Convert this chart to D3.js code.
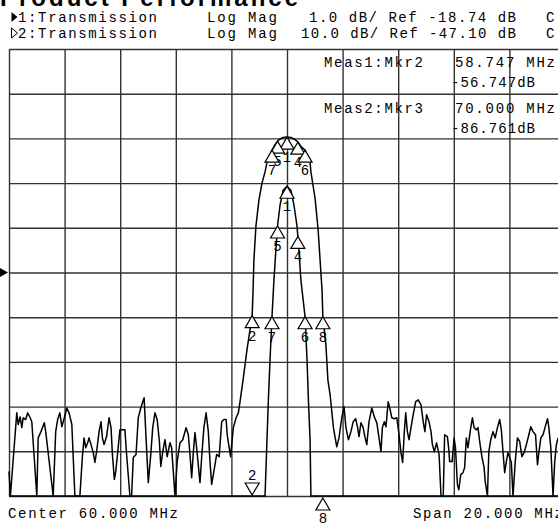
<!DOCTYPE html>
<html>
<head>
<meta charset="utf-8">
<script src="https://cdn.jsdelivr.net/npm/d3@7"></script>
<style>
html, body { margin: 0; padding: 0; background: #fff; overflow: hidden; }
svg { display: block; }
.mono { font-family: "Liberation Mono", "DejaVu Sans Mono", monospace; font-size: 14px; fill: #000; }
.grid line { stroke: #333; stroke-width: 1.4; }
.grid path { display: none; }
.trace { fill: none; stroke: #000; stroke-width: 1.5; stroke-linejoin: round; }
.mkr { fill: #fff; stroke: #000; stroke-width: 1.2; }
</style>
</head>
<body>
<div id="chart"></div>
<script>
// sweep, MHz
const freqMHz = [
  50.00, 50.05, 50.28, 50.33, 50.40, 50.46, 50.51, 50.60, 50.67, 50.76, 50.82,
  51.00, 51.05, 51.15, 51.27, 51.32, 51.59, 51.68, 51.75, 51.83, 51.90, 51.99,
  52.08, 52.16, 52.26, 52.37, 52.55, 52.64, 52.70, 52.76, 52.83, 52.88, 52.95,
  53.03, 53.09, 53.15, 53.24, 53.31, 53.36, 53.42, 53.51, 53.60, 53.67, 53.72,
  53.79, 53.84, 53.91, 53.99, 54.17, 54.23, 54.35, 54.41, 54.47, 54.57, 54.65,
  54.74, 54.86, 54.93, 55.01, 55.10, 55.17, 55.25, 55.33, 55.41, 55.46, 55.53,
  55.61, 55.69, 55.79, 55.85, 55.91, 55.97, 56.05, 56.15, 56.25, 56.37, 56.45,
  56.51, 56.57, 56.63, 56.69, 56.75, 56.87, 56.93, 57.01, 57.09, 57.17, 57.23,
  57.29, 57.37, 57.47, 57.56, 57.65, 57.73, 57.81, 57.85, 57.92, 57.97, 58.07,
  58.17, 58.25, 58.31, 58.42, 58.56, 58.67, 58.747, 58.78, 58.81, 58.88, 58.99,
  59.10, 59.21, 59.28, 59.33, 59.39, 59.46, 59.53, 59.60, 59.66, 59.75, 59.86,
  60.00, 60.14, 60.25, 60.36, 60.43, 60.50, 60.65, 60.72, 60.77, 60.83, 60.86,
  61.01, 61.12, 61.19, 61.26, 61.29, 61.40, 61.47, 61.55, 61.67, 61.79, 61.87,
  61.97, 62.05, 62.12, 62.21, 62.30, 62.38, 62.47, 62.54, 62.59, 62.66, 62.74,
  62.81, 62.87, 62.95, 63.05, 63.14, 63.23, 63.31, 63.38, 63.43, 63.50, 63.56,
  63.64, 63.71, 63.77, 63.86, 63.95, 64.03, 64.10, 64.16, 64.22, 64.27, 64.33,
  64.39, 64.46, 64.54, 64.63, 64.72, 64.82, 64.90, 64.96, 65.02, 65.11, 65.18,
  65.23, 65.30, 65.38, 65.47, 65.54, 65.62, 65.67, 65.77, 65.82, 65.85, 65.94,
  66.01, 66.06, 66.13, 66.18, 66.25, 66.33, 66.39, 66.45, 66.51, 66.61, 66.67,
  66.73, 66.81, 66.87, 66.93, 67.01, 67.09, 67.13, 67.21, 67.26, 67.33, 67.41,
  67.49, 67.57, 67.65, 67.71, 67.77, 67.83, 67.89, 67.95, 68.01, 68.07, 68.13,
  68.21, 68.29, 68.37, 68.45, 68.53, 68.61, 68.70, 68.77, 68.85, 68.94, 69.01,
  69.06, 69.13, 69.21, 69.28, 69.37, 69.42, 69.49, 69.57, 69.63, 69.69, 69.75,
  70.00
];
// transmission, dB (same measurement shown on both channels)
const s21dB = [
  -91.6, -98.0, -78.5, -81.1, -79.4, -81.8, -79.6, -80.0, -78.5, -79.6, -80.5,
  -98.0, -84.1, -82.7, -80.7, -82.7, -98.0, -82.7, -80.0, -78.5, -81.6, -79.6,
  -77.4, -78.5, -81.1, -98.0, -98.0, -88.3, -84.1, -86.3, -85.2, -84.1, -85.6,
  -87.4, -89.6, -87.2, -82.7, -80.5, -84.1, -85.6, -83.8, -79.6, -81.8, -87.8,
  -93.4, -91.6, -87.4, -82.3, -82.3, -87.8, -98.0, -98.0, -88.5, -87.8, -79.6,
  -77.4, -75.1, -84.1, -94.1, -87.8, -81.8, -78.5, -80.0, -84.9, -90.5, -87.2,
  -84.5, -88.3, -85.2, -86.3, -91.6, -98.0, -89.4, -85.2, -84.5, -81.8, -83.4,
  -87.8, -93.0, -87.4, -82.9, -86.3, -94.1, -88.5, -81.8, -78.5, -82.7, -89.4,
  -94.5, -91.6, -87.8, -88.3, -80.5, -80.0, -80.0, -83.4, -86.3, -88.3, -81.8,
  -79.6, -78.5, -76.0, -71.1, -64.4, -59.9, -56.75, -51.0, -44.3, -36.9, -30.9,
  -27.1, -24.6, -22.48, -21.59, -20.69, -19.73, -18.91, -18.24, -17.70, -17.23, -16.90,
  -16.81, -16.90, -17.23, -17.70, -18.24, -18.91, -19.73, -20.69, -21.59, -22.48, -24.6,
  -30.5, -37.6, -44.3, -51.0, -57.0, -63.3, -71.1, -74.4, -81.8, -86.1, -84.1,
  -79.6, -77.1, -81.8, -84.5, -82.7, -80.5, -79.8, -81.8, -83.8, -80.7, -81.8,
  -84.1, -85.6, -80.5, -77.4, -79.4, -80.7, -84.1, -87.2, -81.8, -80.5, -81.6,
  -76.0, -77.8, -79.6, -79.8, -79.6, -83.4, -87.4, -89.6, -82.7, -78.5, -82.7,
  -84.5, -81.8, -78.9, -76.0, -75.6, -76.7, -80.5, -82.7, -78.9, -80.5, -82.7,
  -85.6, -87.2, -85.2, -87.8, -98.0, -98.0, -83.4, -83.8, -86.7, -89.4, -89.4,
  -84.1, -86.3, -94.5, -95.7, -92.3, -91.9, -90.7, -84.1, -86.3, -81.8, -79.6,
  -81.8, -82.3, -81.8, -84.9, -88.3, -90.7, -93.9, -98.0, -87.2, -84.5, -82.7,
  -84.1, -81.8, -80.0, -82.3, -87.2, -91.9, -89.4, -87.4, -88.5, -89.6, -98.0,
  -89.4, -84.1, -84.9, -88.3, -87.4, -85.6, -83.4, -81.6, -82.7, -83.4, -90.1,
  -87.4, -84.1, -83.4, -81.8, -79.8, -81.8, -86.3, -98.0, -89.4, -85.6, -84.1,
  -86.76
];

const markerIds = [1, 2, 3, 4, 5, 6, 7, 8];
const markerFreqMHz = [60.000, 58.747, 70.000, 60.39, 59.66, 60.65, 59.46, 61.29];
const activeMarker = 2;

const xTickMHz = [50, 52, 54, 56, 58, 60, 62, 64, 66, 68, 70];

// channel settings from the header
const ch1 = {ref: -18.74, perDiv: 1};
const ch2 = {ref: -47.10, perDiv: 10};
const refPos = 5, divs = 10;

var margin = {left: 9, top: 49},
    plotW = 556, plotH = 447;

var svg = d3.select('#chart').append('svg')
  .attr('width', 558).attr('height', 525);

// title, mostly cut off at the top of the capture
svg.append('text')
  .attr('x', 0).attr('y', 6)
  .attr('textLength', 298)
  .style('font-family', '"Liberation Sans", Arial, sans-serif')
  .style('font-weight', 'bold').style('font-size', '24px')
  .text('Product Performance');

function txt(x, y, s, len){
  var t = svg.append('text').attr('class', 'mono').attr('x', x).attr('y', y).text(s);
  if(len) t.attr('textLength', len).attr('lengthAdjust', 'spacing');
  return t;
}

// header lines
svg.append('path').attr('d', 'M11.5,12 L17.5,17 L11.5,22 Z').attr('fill', '#000');
svg.append('path').attr('d', 'M11.5,28 L17.5,33 L11.5,38 Z')
  .attr('fill', 'none').attr('stroke', '#000').attr('stroke-width', 1);
txt(18, 22, '1:Transmission', 139);
txt(18, 38, '2:Transmission', 139);
txt(207, 22, 'Log Mag', 70);
txt(207, 38, 'Log Mag', 70);
txt(309, 22, '1.0 dB/ Ref -18.74 dB', 207);
txt(301, 38, '10.0 dB/ Ref -47.10 dB', 215);
txt(546, 22, 'C');
txt(546, 38, 'C');

var x = d3.scaleLinear().domain([xTickMHz[0], xTickMHz[xTickMHz.length - 1]]).range([0, plotW]);

function yFor(ch){
  return d3.scaleLinear()
    .domain([ch.ref - refPos * ch.perDiv, ch.ref + (divs - refPos) * ch.perDiv])
    .range([plotH, 0])
    .clamp(true);
}
var y1 = yFor(ch1);
var y2 = yFor(ch2);
var y1Ticks = d3.range(divs + 1).map(function(i){ return y1.domain()[0] + i * ch1.perDiv; });

var g = svg.append('g')
  .attr('transform', 'translate(' + margin.left + ',' + margin.top + ')');

g.append('g').attr('class', 'grid')
  .attr('transform', 'translate(0,' + plotH + ')')
  .call(d3.axisBottom(x).tickValues(xTickMHz).tickSize(-plotH).tickSizeOuter(0).tickFormat(''));
g.append('g').attr('class', 'grid')
  .call(d3.axisLeft(y1).tickValues(y1Ticks).tickSize(-plotW).tickSizeOuter(0).tickFormat(''));

// reference position arrow
var yRef = margin.top + y1(ch1.ref);
svg.append('path')
  .attr('d', 'M0,' + (yRef - 4.5) + ' L8,' + yRef + ' L0,' + (yRef + 4.5) + ' Z')
  .attr('fill', '#000');

var pts = freqMHz.map(function(f, i){ return {f: f, v: s21dB[i]}; });

[y1, y2].forEach(function(ys){
  g.append('path').datum(pts).attr('class', 'trace')
    .attr('d', d3.line().x(function(d){ return x(d.f); }).y(function(d){ return ys(d.v); }));
});

function valueAt(f){
  var i = d3.bisector(function(d){ return d; }).left(freqMHz, f);
  if(i <= 0) return s21dB[0];
  if(i >= freqMHz.length) return s21dB[s21dB.length - 1];
  var t = (f - freqMHz[i - 1]) / (freqMHz[i] - freqMHz[i - 1]);
  return s21dB[i - 1] + t * (s21dB[i] - s21dB[i - 1]);
}

var tw = 7, th = 12;
function markers(ys){
  markerIds.forEach(function(id, k){
    var f = markerFreqMHz[k];
    var v = valueAt(f);
    var mx = x(f);
    if(mx >= plotW) return; // sits on the right edge, outside the capture
    var lo = ys.domain()[0];
    if(v >= lo){
      var my = ys(v);
      g.append('path').attr('class', 'mkr')
        .attr('d', 'M' + mx + ',' + my + ' L' + (mx + tw) + ',' + (my + th) + ' L' + (mx - tw) + ',' + (my + th) + ' Z');
      g.append('text').attr('class', 'mono')
        .attr('x', mx).attr('y', my + th + 13)
        .attr('text-anchor', 'middle').text(id);
    }else if(id === activeMarker){
      g.append('path').attr('class', 'mkr')
        .attr('d', 'M' + mx + ',' + (plotH - 1) + ' L' + (mx + tw) + ',' + (plotH - 1 - th) + ' L' + (mx - tw) + ',' + (plotH - 1 - th) + ' Z');
      g.append('text').attr('class', 'mono')
        .attr('x', mx).attr('y', plotH - th - 4)
        .attr('text-anchor', 'middle').text(id);
    }else{
      g.append('path').attr('class', 'mkr')
        .attr('d', 'M' + mx + ',' + (plotH + 2) + ' L' + (mx + tw) + ',' + (plotH + 2 + th) + ' L' + (mx - tw) + ',' + (plotH + 2 + th) + ' Z');
      g.append('text').attr('class', 'mono')
        .attr('x', mx).attr('y', plotH + th + 15)
        .attr('text-anchor', 'middle').text(id);
    }
  });
}
markers(y2);
markers(y1);

// marker readouts
txt(324, 67, 'Meas1:Mkr2', 99);
txt(455, 67, '58.747 MHz', 100);
txt(451, 87, '-56.747dB', 84);
txt(324, 113, 'Meas2:Mkr3', 99);
txt(455, 113, '70.000 MHz', 100);
txt(451, 133, '-86.761dB', 84);

// footer
txt(8, 518, 'Center 60.000 MHz', 170);
txt(413, 518, 'Span 20.000 MHz', 150);
</script>
</body>
</html>
